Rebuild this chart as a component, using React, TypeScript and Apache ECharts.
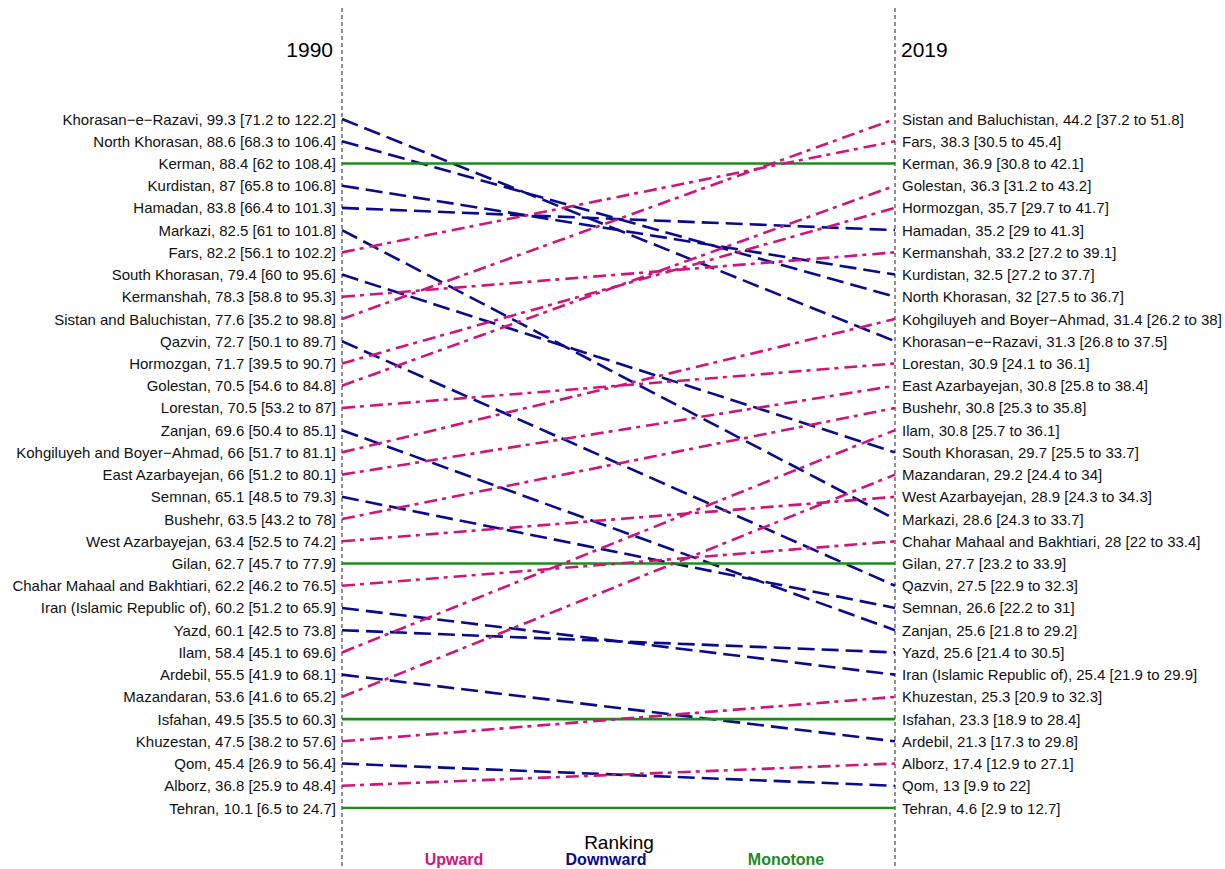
import React, { useEffect, useRef } from "react";
import * as echarts from "echarts";

// 1990 ranking (top = rank 1)
const names1990 = [
  "Khorasan−e−Razavi", "North Khorasan", "Kerman", "Kurdistan", "Hamadan", "Markazi", "Fars",
  "South Khorasan", "Kermanshah", "Sistan and Baluchistan", "Qazvin", "Hormozgan", "Golestan",
  "Lorestan", "Zanjan", "Kohgiluyeh and Boyer−Ahmad", "East Azarbayejan", "Semnan", "Bushehr",
  "West Azarbayejan", "Gilan", "Chahar Mahaal and Bakhtiari", "Iran (Islamic Republic of)", "Yazd",
  "Ilam", "Ardebil", "Mazandaran", "Isfahan", "Khuzestan", "Qom", "Alborz", "Tehran",
];
const est1990 = [99.3, 88.6, 88.4, 87, 83.8, 82.5, 82.2, 79.4, 78.3, 77.6, 72.7, 71.7, 70.5, 70.5, 69.6, 66, 66, 65.1, 63.5, 63.4, 62.7, 62.2, 60.2, 60.1, 58.4, 55.5, 53.6, 49.5, 47.5, 45.4, 36.8, 10.1];
const lo1990 = [71.2, 68.3, 62, 65.8, 66.4, 61, 56.1, 60, 58.8, 35.2, 50.1, 39.5, 54.6, 53.2, 50.4, 51.7, 51.2, 48.5, 43.2, 52.5, 45.7, 46.2, 51.2, 42.5, 45.1, 41.9, 41.6, 35.5, 38.2, 26.9, 25.9, 6.5];
const hi1990 = [122.2, 106.4, 108.4, 106.8, 101.3, 101.8, 102.2, 95.6, 95.3, 98.8, 89.7, 90.7, 84.8, 87, 85.1, 81.1, 80.1, 79.3, 78, 74.2, 77.9, 76.5, 65.9, 73.8, 69.6, 68.1, 65.2, 60.3, 57.6, 56.4, 48.4, 24.7];

// 2019 ranking (top = rank 1)
const names2019 = [
  "Sistan and Baluchistan", "Fars", "Kerman", "Golestan", "Hormozgan", "Hamadan", "Kermanshah",
  "Kurdistan", "North Khorasan", "Kohgiluyeh and Boyer−Ahmad", "Khorasan−e−Razavi", "Lorestan",
  "East Azarbayejan", "Bushehr", "Ilam", "South Khorasan", "Mazandaran", "West Azarbayejan", "Markazi",
  "Chahar Mahaal and Bakhtiari", "Gilan", "Qazvin", "Semnan", "Zanjan", "Yazd",
  "Iran (Islamic Republic of)", "Khuzestan", "Isfahan", "Ardebil", "Alborz", "Qom", "Tehran",
];
const est2019 = [44.2, 38.3, 36.9, 36.3, 35.7, 35.2, 33.2, 32.5, 32, 31.4, 31.3, 30.9, 30.8, 30.8, 30.8, 29.7, 29.2, 28.9, 28.6, 28, 27.7, 27.5, 26.6, 25.6, 25.6, 25.4, 25.3, 23.3, 21.3, 17.4, 13, 4.6];
const lo2019 = [37.2, 30.5, 30.8, 31.2, 29.7, 29, 27.2, 27.2, 27.5, 26.2, 26.8, 24.1, 25.8, 25.3, 25.7, 25.5, 24.4, 24.3, 24.3, 22, 23.2, 22.9, 22.2, 21.8, 21.4, 21.9, 20.9, 18.9, 17.3, 12.9, 9.9, 2.9];
const hi2019 = [51.8, 45.4, 42.1, 43.2, 41.7, 41.3, 39.1, 37.7, 36.7, 38, 37.5, 36.1, 38.4, 35.8, 36.1, 33.7, 34, 34.3, 33.7, 33.4, 33.9, 32.3, 31, 29.2, 30.5, 29.9, 32.3, 28.4, 29.8, 27.1, 22, 12.7];

const years = ["1990", "2019"];
const legendNames = ["Upward", "Downward", "Monotone"];

const COLORS: Record<string, string> = {
  Upward: "#D0157A",
  Downward: "#0A0A8C",
  Monotone: "#1E8A1E",
};

const fmt = (n: string, e: number, l: number, h: number) => `${n}, ${e} [${l} to ${h}]`;

export default function App() {
  const ref = useRef<HTMLDivElement>(null);

  useEffect(() => {
    if (!ref.current) return;
    const chart = echarts.init(ref.current, null, { renderer: "svg" });

    const leftLabels = names1990.map((n, i) => fmt(n, est1990[i], lo1990[i], hi1990[i]));
    const rightLabels = names2019.map((n, i) => fmt(n, est2019[i], lo2019[i], hi2019[i]));

    const series: any[] = names1990.map((name, i) => {
      const j = names2019.indexOf(name);
      const kind = j < i ? "Upward" : j > i ? "Downward" : "Monotone";
      const dash =
        kind === "Upward" ? [13, 5, 4, 6] : kind === "Downward" ? [17, 7] : "solid";
      return {
        type: "line",
        name,
        xAxisIndex: 0,
        yAxisIndex: 0,
        data: [
          [0, i],
          [1, j],
        ],
        symbol: "none",
        silent: true,
        lineStyle: { color: COLORS[kind], width: 2.6, type: dash },
      };
    });

    const font = "'Liberation Sans', Arial, Helvetica, sans-serif";

    chart.setOption({
      animation: false,
      grid: { left: 342, right: 330, top: 119, bottom: 61, containLabel: false },
      xAxis: {
        type: "value",
        min: 0,
        max: 1,
        show: false,
      },
      yAxis: [
        {
          type: "category",
          data: leftLabels,
          inverse: true,
          boundaryGap: false,
          position: "left",
          axisLine: { show: false },
          axisTick: { show: false },
          splitLine: { show: false },
          axisLabel: { margin: 6, color: "#111", fontSize: 15, fontFamily: font, interval: 0 },
        },
        {
          type: "category",
          data: rightLabels,
          inverse: true,
          boundaryGap: false,
          position: "right",
          axisLine: { show: false },
          axisTick: { show: false },
          splitLine: { show: false },
          axisLabel: { margin: 7, color: "#111", fontSize: 15, fontFamily: font, interval: 0 },
        },
      ],
      series,
      graphic: [
        {
          type: "line",
          shape: { x1: 342, y1: 8, x2: 342, y2: 869 },
          style: { stroke: "#555", lineWidth: 1.3, lineDash: [4, 3] },
          z: 0,
        },
        {
          type: "line",
          shape: { x1: 895, y1: 8, x2: 895, y2: 869 },
          style: { stroke: "#555", lineWidth: 1.3, lineDash: [4, 3] },
          z: 0,
        },
        {
          type: "text",
          x: 333,
          y: 49,
          style: { text: years[0], font: `21px ${font}`, fill: "#000", align: "right", verticalAlign: "middle" },
        },
        {
          type: "text",
          x: 901,
          y: 49,
          style: { text: years[1], font: `21px ${font}`, fill: "#000", align: "left", verticalAlign: "middle" },
        },
        {
          type: "text",
          x: 619,
          y: 842,
          style: { text: "Ranking", font: `19px ${font}`, fill: "#000", align: "center", verticalAlign: "middle" },
        },
        {
          type: "text",
          x: 454,
          y: 859,
          style: { text: legendNames[0], font: `bold 16px ${font}`, fill: COLORS.Upward, align: "center", verticalAlign: "middle" },
        },
        {
          type: "text",
          x: 606,
          y: 859,
          style: { text: legendNames[1], font: `bold 16px ${font}`, fill: COLORS.Downward, align: "center", verticalAlign: "middle" },
        },
        {
          type: "text",
          x: 786,
          y: 859,
          style: { text: legendNames[2], font: `bold 16px ${font}`, fill: COLORS.Monotone, align: "center", verticalAlign: "middle" },
        },
      ],
    });

    return () => chart.dispose();
  }, []);

  return <div ref={ref} style={{ width: 1225, height: 869, position: "absolute", left: 0, top: 0 }} />;
}
